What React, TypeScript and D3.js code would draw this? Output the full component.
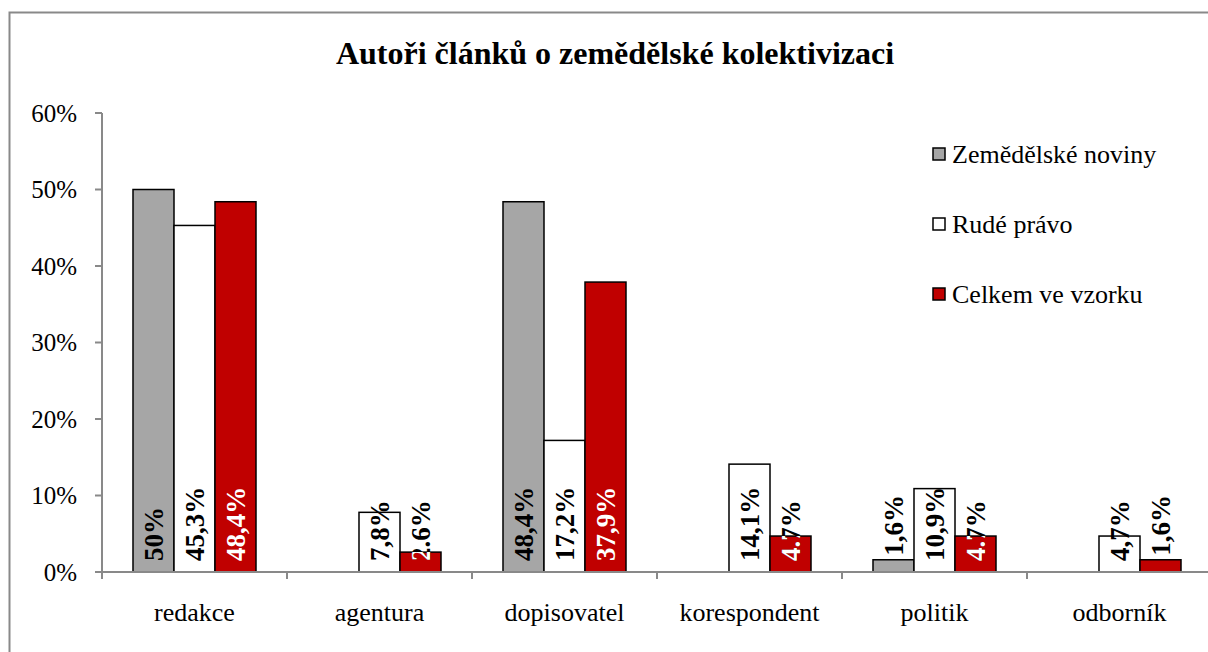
import React from "react";
import * as d3 from "d3";

const categories = ["redakce", "agentura", "dopisovatel", "korespondent", "politik", "odborník"];
const seriesNames = ["Zemědělské noviny", "Rudé právo", "Celkem ve vzorku"];
const zemedelskeNoviny = [50, 0, 48.4, 0, 1.6, 0];
const rudePravo = [45.3, 7.8, 17.2, 14.1, 10.9, 4.7];
const celkem = [48.4, 2.6, 37.9, 4.7, 4.7, 1.6];
const labelsZN = ["50%", "", "48,4%", "", "1,6%", ""];
const labelsRP = ["45,3%", "7,8%", "17,2%", "14,1%", "10,9%", "4,7%"];
const labelsC = ["48,4%", "2.6%", "37,9%", "4.7%", "4.7%", "1,6%"];
const yTicks = [0, 10, 20, 30, 40, 50, 60];
const title = "Autoři článků o zemědělské kolektivizaci";

const seriesValues = [zemedelskeNoviny, rudePravo, celkem];
const seriesLabels = [labelsZN, labelsRP, labelsC];
const colors = ["#a6a6a6", "#ffffff", "#c00000"];
const labelColors = ["#000", "#000", "#fff"];

const W = 1208;
const H = 652;
const FONT = "Liberation Serif";

export default function App() {
  const y = d3.scaleLinear().domain([0, 60]).range([572, 113]);
  const x0 = d3.scaleBand<string>().domain(categories).range([102, 1212]);
  const x1 = d3
    .scaleBand<number>()
    .domain([0, 1, 2])
    .range([0, x0.bandwidth()])
    .paddingInner(0)
    .paddingOuter(0.756);
  const bw = x1.bandwidth();
  const gray = "#898989";
  const LABEL_BASE = 561;

  return (
    <div style={{ position: "absolute", left: 0, top: 0 }}>
      <svg width={W} height={H} style={{ display: "block", fontFamily: FONT }}>
        <rect x={0} y={0} width={W} height={H} fill="#fff" />
        {/* outer border */}
        <path d={`M9.5,${H + 5} L9.5,12.5 L${W + 5},12.5`} fill="none" stroke={gray} strokeWidth={2} />
        {/* title */}
        <text x={615} y={64} textAnchor="middle" fontSize={32} fontWeight="bold" fill="#000" style={{ fontFamily: FONT }}>
          {title}
        </text>
        {/* y axis */}
        <line x1={102} x2={102} y1={y(60)} y2={y(0)} stroke={gray} strokeWidth={2} />
        {yTicks.map((t) => (
          <g key={t}>
            <line x1={95} x2={102} y1={y(t)} y2={y(t)} stroke={gray} strokeWidth={2} />
            <text x={77} y={y(t)} dy="0.35em" textAnchor="end" fontSize={25} fill="#000" style={{ fontFamily: FONT }}>
              {t}%
            </text>
          </g>
        ))}
        <defs>
          {categories.map((c, ci) =>
            seriesValues.map((vals, si) => (
              <clipPath id={`clip-${ci}-${si}`} key={`${ci}-${si}`}>
                <rect
                  x={x0(c)! + x1(si)!}
                  y={y(vals[ci])}
                  width={bw}
                  height={y(0) - y(vals[ci])}
                />
              </clipPath>
            ))
          )}
        </defs>
        {/* bars */}
        {categories.map((c, ci) =>
          seriesValues.map((vals, si) =>
            vals[ci] > 0 ? (
              <rect
                key={`b-${ci}-${si}`}
                x={x0(c)! + x1(si)!}
                y={y(vals[ci])}
                width={bw}
                height={y(0) - y(vals[ci])}
                fill={colors[si]}
                stroke="#000"
                strokeWidth={1.5}
              />
            ) : null
          )
        )}
        {/* x axis */}
        <line x1={102} x2={W} y1={y(0)} y2={y(0)} stroke={gray} strokeWidth={2} />
        {categories.map((c) => (
          <line key={`t-${c}`} x1={x0(c)!} x2={x0(c)!} y1={y(0)} y2={y(0) + 7} stroke={gray} strokeWidth={2} />
        ))}
        {categories.map((c) => (
          <text key={`l-${c}`} x={x0(c)! + x0.bandwidth() / 2} y={621} textAnchor="middle" fontSize={26} fill="#000" style={{ fontFamily: FONT }}>
            {c}
          </text>
        ))}
        {/* data labels */}
        {categories.map((c, ci) =>
          seriesValues.map((vals, si) => {
            const lab = seriesLabels[si][ci];
            if (!lab) return null;
            const cx = x0(c)! + x1(si)! + bw / 2;
            const top = y(vals[ci]);
            const start = top > LABEL_BASE - 6 ? top - 4 : LABEL_BASE;
            const inside = top < 480;
            const tr = `translate(${cx},${start}) rotate(-90)`;
            return (
              <g key={`d-${ci}-${si}`}>
                <text
                  transform={tr}
                  dy="0.35em"
                  fontSize={27}
                  fontWeight="bold"
                  fill={inside ? labelColors[si] : "#000"}
                  style={{ fontFamily: FONT }}
                >
                  {lab}
                </text>
                {!inside && labelColors[si] !== "#000" && (
                  <g clipPath={`url(#clip-${ci}-${si})`}>
                    <text
                      transform={tr}
                      dy="0.35em"
                      fontSize={27}
                      fontWeight="bold"
                      fill={labelColors[si]}
                      style={{ fontFamily: FONT }}
                    >
                      {lab}
                    </text>
                  </g>
                )}
              </g>
            );
          })
        )}
        {/* legend */}
        {seriesNames.map((n, i) => (
          <g key={n} transform={`translate(933,${154 + i * 70})`}>
            <rect x={0} y={-6} width={12} height={12} fill={colors[i]} stroke="#000" strokeWidth={1.5} />
            <text x={19} y={0} dy="0.35em" fontSize={26} fill="#000" style={{ fontFamily: FONT }}>
              {n}
            </text>
          </g>
        ))}
      </svg>
    </div>
  );
}
